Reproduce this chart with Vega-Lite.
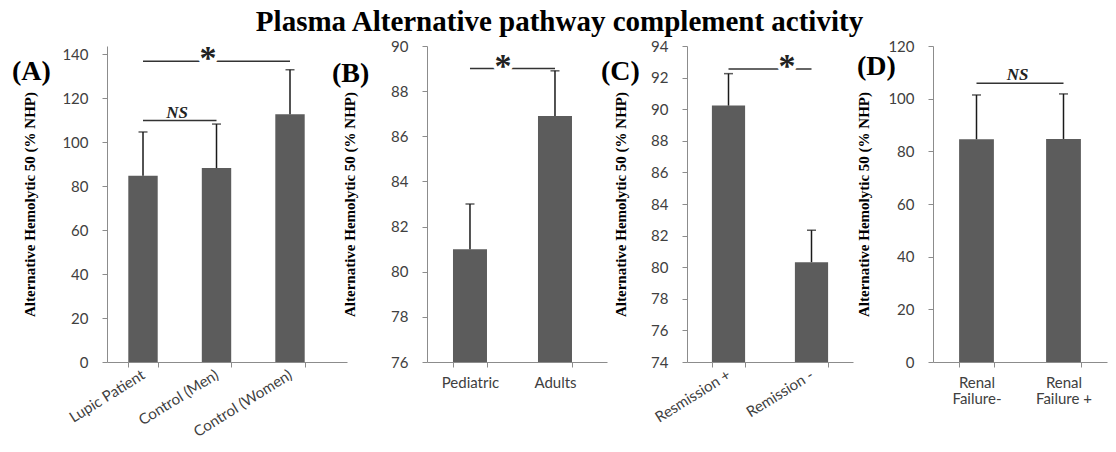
{
  "$schema": "https://vega.github.io/schema/vega-lite/v6.json",
  "padding": {"left": 12, "top": 8, "right": 5, "bottom": 5},
  "background": "white",
  "title": {"text": "Plasma Alternative pathway complement activity", "font": "Liberation Serif", "fontSize": 29, "fontWeight": "bold", "color": "black", "anchor": "middle", "offset": 2},
  "datasets": {
    "bars": [
      {"panel": "A", "cat": "Lupic Patient", "mean": 84.7, "upper": 104.6},
      {"panel": "A", "cat": "Control (Men)", "mean": 88.2, "upper": 108.2},
      {"panel": "A", "cat": "Control (Women)", "mean": 112.7, "upper": 132.9},
      {"panel": "B", "cat": "Pediatric", "mean": 81.0, "upper": 83.0},
      {"panel": "B", "cat": "Adults", "mean": 86.9, "upper": 88.9},
      {"panel": "C", "cat": "Resmission +", "mean": 90.23, "upper": 92.25},
      {"panel": "C", "cat": "Remission -", "mean": 80.32, "upper": 82.34},
      {"panel": "D", "cat": "Renal Failure-", "mean": 84.6, "upper": 101.4},
      {"panel": "D", "cat": "Renal Failure +", "mean": 84.7, "upper": 101.8}
    ],
    "annot": [
      {"panel": "A", "from": "Lupic Patient", "to": "Control (Women)", "y": 136.8, "label": "*"},
      {"panel": "A", "from": "Lupic Patient", "to": "Control (Men)", "y": 109.8, "label": "NS"},
      {"panel": "B", "from": "Pediatric", "to": "Adults", "y": 89.0, "label": "*"},
      {"panel": "C", "from": "Resmission +", "to": "Remission -", "y": 92.55, "label": "*"},
      {"panel": "D", "from": "Renal Failure-", "to": "Renal Failure +", "y": 105.9, "label": "NS"}
    ]
  },
  "spacing": 80,
  "bounds": "flush",
  "hconcat": [
    {
      "width": 240, "height": 316,
      "title": {"text": "(A)", "anchor": "start", "frame": "group", "dx": -95, "dy": 48},
      "layer": [
        {"data": {"name": "bars"}, "transform": [{"filter": "datum.panel === 'A'"}],
         "mark": {"type": "bar", "color": "#5c5c5c", "clip": true},
         "encoding": {
           "x": {"field": "cat", "type": "nominal", "scale": {"domain": ["Lupic Patient", "Control (Men)", "Control (Women)"], "paddingInner": 0.6, "paddingOuter": 0.4327, "align": 0.335},
                 "axis": {"title": null, "labelAngle": -32, "labelAlign": "right", "labelBaseline": "middle", "tickBand": "extent", "labelPadding": 6}},
           "y": {"field": "mean", "type": "quantitative", "scale": {"domain": [0, 143.7], "nice": false},
                 "axis": {"values": [0, 20, 40, 60, 80, 100, 120, 140], "title": "Alternative Hemolytic 50 (% NHP)", "titlePadding": 24}}
         }},
        {"data": {"name": "bars"}, "transform": [{"filter": "datum.panel === 'A'"}],
         "mark": {"type": "rule", "color": "#1a1a1a", "strokeWidth": 1.5},
         "encoding": {"x": {"field": "cat", "type": "nominal"}, "y": {"field": "mean", "type": "quantitative"}, "y2": {"field": "upper"}}},
        {"data": {"name": "bars"}, "transform": [{"filter": "datum.panel === 'A'"}],
         "mark": {"type": "tick", "color": "#1a1a1a", "size": 9, "thickness": 1.5, "orient": "horizontal"},
         "encoding": {"x": {"field": "cat", "type": "nominal"}, "y": {"field": "upper", "type": "quantitative"}}},
        {"data": {"name": "annot"}, "transform": [{"filter": "datum.panel === 'A'"}],
         "mark": {"type": "rule", "color": "#333333", "strokeWidth": 1.5},
         "encoding": {"x": {"field": "from", "type": "nominal"}, "x2": {"field": "to"}, "y": {"field": "y", "type": "quantitative"}}},
        {"data": {"name": "annot"}, "transform": [{"filter": "datum.panel === 'A' && datum.label === '*'"}],
         "mark": {"type": "text", "font": "Liberation Serif", "fontWeight": "bold", "fontSize": 34, "fill": "white", "stroke": "white", "strokeWidth": 8, "baseline": "alphabetic", "dy": 8},
         "encoding": {"x": {"field": "from", "type": "nominal", "bandPosition": 2.71}, "y": {"field": "y", "type": "quantitative"}, "text": {"field": "label"}}},
        {"data": {"name": "annot"}, "transform": [{"filter": "datum.panel === 'A' && datum.label === '*'"}],
         "mark": {"type": "text", "font": "Liberation Serif", "fontWeight": "bold", "fontSize": 34, "fill": "#222222", "baseline": "alphabetic", "dy": 8},
         "encoding": {"x": {"field": "from", "type": "nominal", "bandPosition": 2.71}, "y": {"field": "y", "type": "quantitative"}, "text": {"field": "label"}}},
        {"data": {"name": "annot"}, "transform": [{"filter": "datum.panel === 'A' && datum.label === 'NS'"}],
         "mark": {"type": "text", "font": "Liberation Serif", "fontWeight": "bold", "fontStyle": "italic", "fontSize": 17, "fill": "#222222", "baseline": "alphabetic", "dy": -3},
         "encoding": {"x": {"field": "from", "type": "nominal", "bandPosition": 1.66}, "y": {"field": "y", "type": "quantitative"}, "text": {"field": "label"}}}
      ]
    },
    {
      "width": 180, "height": 316,
      "title": {"text": "(B)", "anchor": "start", "frame": "group", "dx": -95, "dy": 53},
      "layer": [
        {"data": {"name": "bars"}, "transform": [{"filter": "datum.panel === 'B'"}],
         "mark": {"type": "bar", "color": "#5c5c5c", "clip": true},
         "encoding": {
           "x": {"field": "cat", "type": "nominal", "scale": {"domain": ["Pediatric", "Adults"], "paddingInner": 0.6, "paddingOuter": 0.3588, "align": 0.426},
                 "axis": {"title": null, "labelAngle": 0, "tickBand": "extent", "labelPadding": 8}},
           "y": {"field": "mean", "type": "quantitative", "scale": {"domain": [76, 90], "nice": false, "zero": false},
                 "axis": {"values": [76, 78, 80, 82, 84, 86, 88, 90], "title": "Alternative Hemolytic 50 (% NHP)", "titlePadding": 33}}
         }},
        {"data": {"name": "bars"}, "transform": [{"filter": "datum.panel === 'B'"}],
         "mark": {"type": "rule", "color": "#1a1a1a", "strokeWidth": 1.5},
         "encoding": {"x": {"field": "cat", "type": "nominal"}, "y": {"field": "mean", "type": "quantitative"}, "y2": {"field": "upper"}}},
        {"data": {"name": "bars"}, "transform": [{"filter": "datum.panel === 'B'"}],
         "mark": {"type": "tick", "color": "#1a1a1a", "size": 9, "thickness": 1.5, "orient": "horizontal"},
         "encoding": {"x": {"field": "cat", "type": "nominal"}, "y": {"field": "upper", "type": "quantitative"}}},
        {"data": {"name": "annot"}, "transform": [{"filter": "datum.panel === 'B'"}],
         "mark": {"type": "rule", "color": "#333333", "strokeWidth": 1.5},
         "encoding": {"x": {"field": "from", "type": "nominal"}, "x2": {"field": "to"}, "y": {"field": "y", "type": "quantitative"}}},
        {"data": {"name": "annot"}, "transform": [{"filter": "datum.panel === 'B'"}],
         "mark": {"type": "text", "font": "Liberation Serif", "fontWeight": "bold", "fontSize": 34, "fill": "white", "stroke": "white", "strokeWidth": 8, "baseline": "alphabetic", "dy": 8},
         "encoding": {"x": {"field": "from", "type": "nominal", "bandPosition": 1.47}, "y": {"field": "y", "type": "quantitative"}, "text": {"field": "label"}}},
        {"data": {"name": "annot"}, "transform": [{"filter": "datum.panel === 'B'"}],
         "mark": {"type": "text", "font": "Liberation Serif", "fontWeight": "bold", "fontSize": 34, "fill": "#222222", "baseline": "alphabetic", "dy": 8},
         "encoding": {"x": {"field": "from", "type": "nominal", "bandPosition": 1.47}, "y": {"field": "y", "type": "quantitative"}, "text": {"field": "label"}}}
      ]
    },
    {
      "width": 166, "height": 316,
      "title": {"text": "(C)", "anchor": "start", "frame": "group", "dx": -86, "dy": 51},
      "layer": [
        {"data": {"name": "bars"}, "transform": [{"filter": "datum.panel === 'C'"}],
         "mark": {"type": "bar", "color": "#5c5c5c", "clip": true},
         "encoding": {
           "x": {"field": "cat", "type": "nominal", "scale": {"domain": ["Resmission +", "Remission -"], "paddingInner": 0.6, "paddingOuter": 0.3},
                 "axis": {"title": null, "labelAngle": -32, "labelAlign": "right", "labelBaseline": "middle", "tickBand": "extent", "labelPadding": 6}},
           "y": {"field": "mean", "type": "quantitative", "scale": {"domain": [74, 94], "nice": false, "zero": false},
                 "axis": {"tickCount": 10, "labelOverlap": false, "title": "Alternative Hemolytic 50 (% NHP)", "titlePadding": 22}}
         }},
        {"data": {"name": "bars"}, "transform": [{"filter": "datum.panel === 'C'"}],
         "mark": {"type": "rule", "color": "#1a1a1a", "strokeWidth": 1.5},
         "encoding": {"x": {"field": "cat", "type": "nominal"}, "y": {"field": "mean", "type": "quantitative"}, "y2": {"field": "upper"}}},
        {"data": {"name": "bars"}, "transform": [{"filter": "datum.panel === 'C'"}],
         "mark": {"type": "tick", "color": "#1a1a1a", "size": 9, "thickness": 1.5, "orient": "horizontal"},
         "encoding": {"x": {"field": "cat", "type": "nominal"}, "y": {"field": "upper", "type": "quantitative"}}},
        {"data": {"name": "annot"}, "transform": [{"filter": "datum.panel === 'C'"}],
         "mark": {"type": "rule", "color": "#333333", "strokeWidth": 1.5},
         "encoding": {"x": {"field": "from", "type": "nominal"}, "x2": {"field": "to"}, "y": {"field": "y", "type": "quantitative"}}},
        {"data": {"name": "annot"}, "transform": [{"filter": "datum.panel === 'C'"}],
         "mark": {"type": "text", "font": "Liberation Serif", "fontWeight": "bold", "fontSize": 34, "fill": "white", "stroke": "white", "strokeWidth": 8, "baseline": "alphabetic", "dy": 8},
         "encoding": {"x": {"field": "from", "type": "nominal", "bandPosition": 2.26}, "y": {"field": "y", "type": "quantitative"}, "text": {"field": "label"}}},
        {"data": {"name": "annot"}, "transform": [{"filter": "datum.panel === 'C'"}],
         "mark": {"type": "text", "font": "Liberation Serif", "fontWeight": "bold", "fontSize": 34, "fill": "#222222", "baseline": "alphabetic", "dy": 8},
         "encoding": {"x": {"field": "from", "type": "nominal", "bandPosition": 2.26}, "y": {"field": "y", "type": "quantitative"}, "text": {"field": "label"}}}
      ]
    },
    {
      "width": 174, "height": 316,
      "title": {"text": "(D)", "anchor": "start", "frame": "group", "dx": -76, "dy": 46},
      "layer": [
        {"data": {"name": "bars"}, "transform": [{"filter": "datum.panel === 'D'"}],
         "mark": {"type": "bar", "color": "#5c5c5c", "clip": true},
         "encoding": {
           "x": {"field": "cat", "type": "nominal", "scale": {"domain": ["Renal Failure-", "Renal Failure +"], "paddingInner": 0.6, "paddingOuter": 0.3},
                 "axis": {"title": null, "labelAngle": 0, "tickBand": "extent", "labelPadding": 8, "labelLineHeight": 16, "labelExpr": "[slice(datum.label, 0, 5), slice(datum.label, 6)]"}},
           "y": {"field": "mean", "type": "quantitative", "scale": {"domain": [0, 120], "nice": false},
                 "axis": {"values": [0, 20, 40, 60, 80, 100, 120], "title": "Alternative Hemolytic 50 (% NHP)", "titlePadding": 16}}
         }},
        {"data": {"name": "bars"}, "transform": [{"filter": "datum.panel === 'D'"}],
         "mark": {"type": "rule", "color": "#1a1a1a", "strokeWidth": 1.5},
         "encoding": {"x": {"field": "cat", "type": "nominal"}, "y": {"field": "mean", "type": "quantitative"}, "y2": {"field": "upper"}}},
        {"data": {"name": "bars"}, "transform": [{"filter": "datum.panel === 'D'"}],
         "mark": {"type": "tick", "color": "#1a1a1a", "size": 9, "thickness": 1.5, "orient": "horizontal"},
         "encoding": {"x": {"field": "cat", "type": "nominal"}, "y": {"field": "upper", "type": "quantitative"}}},
        {"data": {"name": "annot"}, "transform": [{"filter": "datum.panel === 'D'"}],
         "mark": {"type": "rule", "color": "#333333", "strokeWidth": 1.5},
         "encoding": {"x": {"field": "from", "type": "nominal"}, "x2": {"field": "to"}, "y": {"field": "y", "type": "quantitative"}}},
        {"data": {"name": "annot"}, "transform": [{"filter": "datum.panel === 'D'"}],
         "mark": {"type": "text", "font": "Liberation Serif", "fontWeight": "bold", "fontStyle": "italic", "fontSize": 17, "fill": "#222222", "baseline": "alphabetic", "dy": -3},
         "encoding": {"x": {"field": "from", "type": "nominal", "bandPosition": 1.68}, "y": {"field": "y", "type": "quantitative"}, "text": {"field": "label"}}}
      ]
    }
  ],
  "config": {
    "view": {"stroke": null},
    "title": {"font": "Liberation Serif", "fontSize": 28, "fontWeight": "bold", "color": "black"},
    "axis": {"grid": false, "labelOverlap": false, "domainColor": "#8c8c8c", "tickColor": "#8c8c8c", "tickSize": 5, "labelFont": "Lato", "labelFontSize": 15, "labelColor": "#404040", "labelPadding": 14, "titleFont": "Liberation Serif", "titleFontSize": 15, "titleFontWeight": "bold", "titleColor": "black", "titlePadding": 12}
  }
}
